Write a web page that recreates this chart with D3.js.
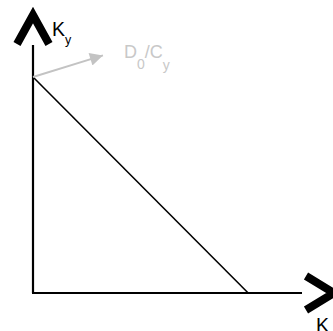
<!DOCTYPE html>
<html><head><meta charset="utf-8">
<script src="https://cdn.jsdelivr.net/npm/d3@7"></script>
<style>body{margin:0;background:#fff;overflow:hidden}svg{display:block}</style>
</head><body>
<script>
// data (in axis units)
const axisMax = [10, 10];           // x max, y max
const budgetLine = [[0, 8], [8, 0]]; // intercepts
const gradientArrow = [[0, 8], [2.6, 8.8]];
const labels = {yAxis: ["K", "y"], xAxis: ["K", "y"], arrow: ["D", "0", "/C", "y"]};

const W = 333, H = 331;
const svg = d3.select("body").append("svg").attr("width", W).attr("height", H);
const x = d3.scaleLinear().domain([0, axisMax[0]]).range([33, 302]);
const y = d3.scaleLinear().domain([0, axisMax[1]]).range([293, 23]);

// axes
svg.append("line").attr("x1", x(0)).attr("y1", y(0)).attr("x2", x(0)).attr("y2", 45)
  .attr("stroke", "#000").attr("stroke-width", 2.2);
svg.append("line").attr("x1", x(0) - 1).attr("y1", y(0)).attr("x2", x(axisMax[0])).attr("y2", y(0))
  .attr("stroke", "#000").attr("stroke-width", 2.2);

// chevrons
svg.append("path").attr("d", `M${x(0)-16},44 L${x(0)},15 L${x(0)+16},44`)
  .attr("fill", "none").attr("stroke", "#000").attr("stroke-width", 8).attr("stroke-linejoin", "miter");
svg.append("path").attr("d", `M306,276 L334,${y(0)} L306,310`)
  .attr("fill", "none").attr("stroke", "#000").attr("stroke-width", 8).attr("stroke-linejoin", "miter");

// budget line
svg.append("line")
  .attr("x1", x(budgetLine[0][0])).attr("y1", y(budgetLine[0][1]))
  .attr("x2", x(budgetLine[1][0])).attr("y2", y(budgetLine[1][1]))
  .attr("stroke", "#000").attr("stroke-width", 1.6);

// grey arrow
const defs = svg.append("defs");
defs.append("marker").attr("id", "ah").attr("viewBox", "0 0 10 10").attr("refX", 10).attr("refY", 5)
  .attr("markerWidth", 15).attr("markerHeight", 13).attr("markerUnits", "userSpaceOnUse").attr("orient", "auto")
  .append("path").attr("d", "M0,0 L10,5 L0,10 Z").attr("fill", "#c3c3c3");
svg.append("line")
  .attr("x1", x(gradientArrow[0][0])).attr("y1", y(gradientArrow[0][1]))
  .attr("x2", x(gradientArrow[1][0])).attr("y2", y(gradientArrow[1][1]))
  .attr("stroke", "#c3c3c3").attr("stroke-width", 2).attr("marker-end", "url(#ah)");

const font = "Liberation Sans, Arial, sans-serif";
// y axis label
const ty = svg.append("text").attr("x", 52).attr("y", 36).attr("font-family", font).attr("font-size", 19.5).attr("fill", "#000");
ty.append("tspan").text(labels.yAxis[0]);
ty.append("tspan").attr("font-size", 12.5).attr("dy", 8).text(labels.yAxis[1]);
// x axis label
const tx = svg.append("text").attr("x", 316).attr("y", 332).attr("font-family", font).attr("font-size", 19.5).attr("fill", "#000");
tx.append("tspan").text(labels.xAxis[0]);
tx.append("tspan").attr("font-size", 12.5).attr("dy", 8).text(labels.xAxis[1]);
// arrow label
const ta = svg.append("text").attr("x", 124).attr("y", 58).attr("font-family", font).attr("font-size", 18).attr("fill", "#c8c8c8");
ta.append("tspan").text(labels.arrow[0]);
ta.append("tspan").attr("font-size", 14).attr("dy", 11).text(labels.arrow[1]);
ta.append("tspan").attr("dy", -11).text(labels.arrow[2]);
ta.append("tspan").attr("font-size", 14).attr("dy", 12).text(labels.arrow[3]);
</script>
</body></html>
